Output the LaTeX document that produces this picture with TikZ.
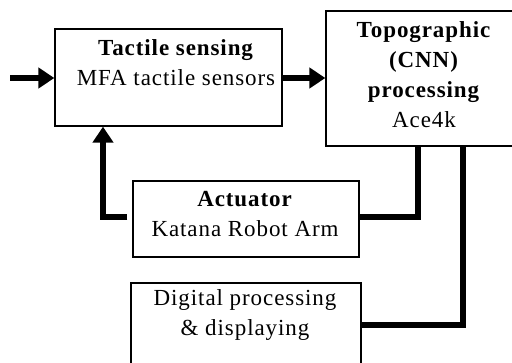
\documentclass[tikz,border=0pt]{standalone}
\usepackage{fontspec}
\setmainfont{Liberation Serif}[LetterSpace=4]
\usetikzlibrary{arrows.meta}
\begin{document}
\begin{tikzpicture}[x=1pt,y=-1pt,
  box/.style={draw, line width=1.2pt, minimum width=#1, inner sep=0pt},
  txt/.style={align=center, inner sep=0pt, font=\fontsize{23}{30}\selectfont},
  conn/.style={line width=6pt, line join=miter},
  arr/.style={conn, -{Triangle[length=16pt,width=20pt]}}]
\useasboundingbox (0,0) rectangle (512,362);
\fill[white] (0,0) rectangle (512,362);
% boxes
\node[box=227pt, minimum height=97pt] (tact) at (168.5,77.5) {};
\node[box=189pt, minimum height=135pt] (topo) at (420.5,78.5) {};
\node[box=226pt, minimum height=76pt] (act) at (246,219) {};
\node[box=230pt, minimum height=87pt] (dig) at (246,326.5) {};
% texts
\node[txt] (tactt) at (176,63) {\textbf{Tactile sensing}\\MFA tactile sensors};
\node[txt] (topot) at (424,75) {\textbf{Topographic}\\\textbf{(CNN)}\\\textbf{processing}\\Ace4k};
\node[txt] (actt) at (245,214) {\textbf{Actuator}\\Katana Robot Arm};
\node[txt] (digt) at (245,315) {Digital processing\\\& displaying};
% connectors
\coordinate (in) at (10,78);
\draw[arr] (in) -- (tact.west |- in);
\draw[arr] (tact.east |- in) -- (topo.west |- in);
\coordinate (fb) at (103,217);
\draw[arr] ([xshift=-5pt]act.west |- fb) -- (fb) -- (fb |- tact.south);
\coordinate (ta) at (418,217);
\draw[conn] (ta |- topo.south) -- (ta) -- (act.east |- ta);
\coordinate (td) at (463,325);
\draw[conn] (td |- topo.south) -- (td) -- (dig.east |- td);
\end{tikzpicture}
\end{document}
